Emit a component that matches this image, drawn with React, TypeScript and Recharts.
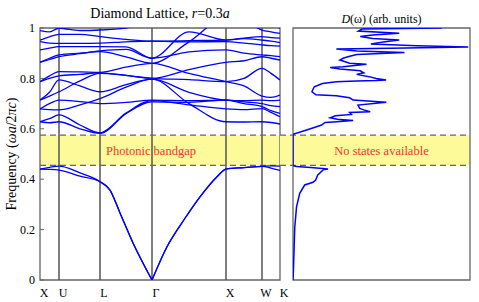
import React from 'react';
import { LineChart, Line, XAxis, YAxis, ReferenceLine, ReferenceArea } from 'recharts';

const serif = "'Liberation Serif', 'Times New Roman', serif";

// k-path positions of the high-symmetry points and their labels
const symPoints = [0, 19, 60, 112, 186, 222, 240];
const symLabels = ['X', 'U', 'L', 'Γ', 'X', 'W', 'K'];
const freqTicks = [0, 0.2, 0.4, 0.6, 0.8, 1];
const gapEdges = [0.455, 0.575];

// lowest two bands (split at Γ so the cusp stays sharp)
const kLowLeft = [0, 9.5, 19, 40, 60, 70, 80, 93, 112];
const kLowRight = [112, 127, 145, 160, 177, 186, 204, 222, 231, 240];
const band1Left = [0.44, 0.439, 0.436, 0.412, 0.39, 0.357, 0.266, 0.147, 0];
const band2Left = [0.44, 0.447, 0.452, 0.425, 0.39, 0.357, 0.266, 0.147, 0];
const band1Right = [0, 0.132, 0.245, 0.33, 0.41, 0.44, 0.446, 0.451, 0.444, 0.435];
const band2Right = [0, 0.132, 0.245, 0.33, 0.41, 0.44, 0.446, 0.451, 0.453, 0.452];

// bands above the gap, sampled along the path
const kPath = [0, 9.5, 19, 40, 60, 86, 112, 149, 186, 204, 222, 231, 240];
const band3 = [0.628, 0.624, 0.628, 0.6, 0.582, 0.66, 0.707, 0.705, 0.714, 0.7, 0.688, 0.672, 0.661];
const band4 = [0.628, 0.64, 0.655, 0.615, 0.584, 0.662, 0.712, 0.695, 0.679, 0.676, 0.68, 0.665, 0.648];
const band5 = [0.679, 0.676, 0.675, 0.695, 0.72, 0.765, 0.797, 0.7, 0.628, 0.627, 0.628, 0.625, 0.619];
const band6 = [0.679, 0.7, 0.714, 0.708, 0.7, 0.705, 0.714, 0.712, 0.714, 0.707, 0.7, 0.692, 0.688];
const band7 = [0.714, 0.73, 0.747, 0.79, 0.82, 0.812, 0.8, 0.795, 0.787, 0.8, 0.84, 0.82, 0.794];
const band8 = [0.714, 0.745, 0.794, 0.77, 0.747, 0.775, 0.797, 0.745, 0.714, 0.712, 0.714, 0.712, 0.714];
const band9 = [0.787, 0.8, 0.81, 0.816, 0.822, 0.812, 0.8, 0.835, 0.864, 0.87, 0.886, 0.88, 0.873];
const band10 = [0.787, 0.81, 0.827, 0.826, 0.824, 0.845, 0.86, 0.82, 0.787, 0.77, 0.73, 0.725, 0.734];
const band11 = [0.864, 0.88, 0.893, 0.9, 0.906, 0.885, 0.86, 0.945, 1.04, 1.03, 0.992, 0.985, 0.979];
const band12 = [0.864, 0.875, 0.886, 0.898, 0.909, 0.915, 0.88, 0.905, 0.913, 0.9, 0.893, 0.89, 0.886];
const band13 = [0.913, 0.92, 0.926, 0.926, 0.926, 0.925, 0.88, 0.985, 0.952, 0.958, 0.952, 0.948, 0.942];
const band14 = [0.946, 0.94, 0.939, 0.939, 0.94, 0.945, 0.948, 0.945, 0.946, 0.94, 0.933, 0.93, 0.928];
const band15 = [0.952, 0.965, 0.975, 0.975, 0.966, 0.955, 0.948, 0.95, 0.952, 0.96, 0.966, 0.962, 0.96];
const band16 = [0.99, 0.985, 0.999, 0.99, 0.992, 1.0, 1.02, 1.05, 1.06, 1.04, 1.02, 1.01, 1.0];

// density of states: frequency and value (fraction of panel width)
const dosFreq = [
  0, 0.05, 0.12, 0.21, 0.29, 0.344, 0.377, 0.388, 0.397, 0.417, 0.437, 0.44, 0.446, 0.45, 0.453, 0.455,
  0.575, 0.578, 0.595, 0.615, 0.625, 0.627, 0.633, 0.638, 0.644, 0.652, 0.657, 0.665, 0.668, 0.675, 0.681,
  0.694, 0.705, 0.714, 0.723, 0.731, 0.735, 0.747, 0.767, 0.78, 0.787, 0.79, 0.792, 0.794, 0.8, 0.807,
  0.813, 0.816, 0.822, 0.83, 0.837, 0.843, 0.846, 0.856, 0.86, 0.873, 0.88, 0.886, 0.895, 0.903, 0.909,
  0.917, 0.92, 0.925, 0.93, 0.937, 0.945, 0.952, 0.958, 0.966, 0.972, 0.979, 0.988, 0.996, 1.0,
];
const dosValue = [
  0, 0.003, 0.006, 0.01, 0.02, 0.038, 0.066, 0.113, 0.128, 0.14, 0.17, 0.198, 0.1, 0.02, 0.005, 0,
  0, 0, 0.077, 0.162, 0.181, 0.228, 0.34, 0.25, 0.21, 0.24, 0.33, 0.32, 0.436, 0.4, 0.377,
  0.367, 0.527, 0.34, 0.32, 0.245, 0.13, 0.107, 0.12, 0.166, 0.245, 0.36, 0.47, 0.526, 0.47, 0.43,
  0.38, 0.36, 0.4, 0.38, 0.265, 0.21, 0.283, 0.415, 0.32, 0.265, 0.283, 0.31, 0.36, 0.63, 0.36,
  0.245, 0.55, 0.99, 0.7, 0.44, 0.52, 0.6, 0.45, 0.38, 0.45, 0.6, 0.37, 0.39, 0.84,
];

const toPoints = (ks: number[], fs: number[]) => ks.map((k, i) => ({ k, f: fs[i] }));

const upperBands = [band3, band4, band5, band6, band7, band8, band9, band10, band11, band12, band13, band14, band15, band16];
const lowerSeries = [
  toPoints(kLowLeft, band1Left),
  toPoints(kLowLeft, band2Left),
  toPoints(kLowRight, band1Right),
  toPoints(kLowRight, band2Right),
];
const dosData = dosFreq.map((f, i) => ({ f, d: dosValue[i] }));

const frame = '#666';
const yellow = '#fdfa9a';
const bandBlue = '#0000ff';
const gapLeft = -13 / 177;
const tickFont = { fill: '#000', fontSize: 12, fontFamily: serif, style: { fontFamily: serif } };

export default function App() {
  return (
    <div style={{ position: 'absolute', left: 0, top: 0, width: 479, height: 302, background: '#fff', fontFamily: serif }}>
      <div style={{ position: 'absolute', left: 0, top: 0 }}>
        <LineChart width={290} height={302} margin={{ top: 28, right: 10, bottom: 0, left: 0 }}>
          <XAxis
            type="number"
            dataKey="k"
            domain={[0, 240]}
            ticks={symPoints}
            interval={0}
            tickFormatter={(v: number) => symLabels[symPoints.indexOf(v)]}
            axisLine={false}
            tickLine={false}
            tickSize={0}
            tickMargin={8}
            height={22}
            tick={{ ...tickFont, dx: 4 }}
            allowDataOverflow
          />
          <YAxis
            type="number"
            domain={[0, 1]}
            ticks={freqTicks}
            interval={0}
            allowDataOverflow
            width={40}
            axisLine={false}
            tickSize={-4}
            tickMargin={9}
            tickLine={{ stroke: frame }}
            tick={tickFont}
          />
          <ReferenceArea
            y1={gapEdges[0]}
            y2={gapEdges[1]}
            fill={yellow}
            fillOpacity={1}
            stroke="none"
            label={{ value: 'Photonic bandgap', position: 'center', fill: '#ff3030', fontSize: 12.5, fontFamily: serif, dx: -9, style: { fontFamily: serif } }}
          />
          {symPoints.slice(1, -1).map((k) => (
            <ReferenceLine key={k} x={k} stroke="#555" strokeWidth={1.5} />
          ))}
          {gapEdges.map((g) => (
            <ReferenceLine key={g} y={g} stroke={frame} strokeWidth={1.2} strokeDasharray="6 4" />
          ))}
          {lowerSeries.map((s, i) => (
            <Line key={'low' + i} data={s} dataKey="f" type="monotone" stroke={bandBlue} strokeWidth={1.3} dot={false} isAnimationActive={false} />
          ))}
          {upperBands.map((b, i) => (
            <Line key={'up' + i} data={toPoints(kPath, b)} dataKey="f" type="monotone" stroke={bandBlue} strokeWidth={1.3} dot={false} isAnimationActive={false} />
          ))}
          <ReferenceArea x1={0} x2={240} y1={0} y2={1} fill="none" stroke={frame} strokeWidth={1.3} />
        </LineChart>
      </div>
      <div style={{ position: 'absolute', left: 280, top: 0 }}>
        <LineChart layout="vertical" width={199} height={302} data={dosData} margin={{ top: 28, right: 9, bottom: 22, left: 13 }}>
          <XAxis type="number" domain={[0, 1]} hide allowDataOverflow />
          <YAxis type="number" dataKey="f" domain={[0, 1]} hide allowDataOverflow reversed />
          <ReferenceArea x1={gapLeft} x2={1} y1={gapEdges[0]} y2={gapEdges[1]} fill={yellow} fillOpacity={1} stroke="none" ifOverflow="visible" />
          <ReferenceArea
            x1={0}
            x2={1}
            y1={gapEdges[0]}
            y2={gapEdges[1]}
            fill="none"
            stroke="none"
            label={{ value: 'No states available', position: 'center', fill: '#ff3030', fontSize: 12.5, fontFamily: serif, style: { fontFamily: serif } }}
          />
          {gapEdges.map((g) => (
            <ReferenceLine
              key={g}
              segment={[{ x: gapLeft, y: g }, { x: 1, y: g }]}
              ifOverflow="visible"
              stroke={frame}
              strokeWidth={1.2}
              strokeDasharray="6 4"
            />
          ))}
          <Line dataKey="d" type="linear" stroke={bandBlue} strokeWidth={1.5} dot={false} isAnimationActive={false} />
          <ReferenceArea x1={0} x2={1} y1={0} y2={1} fill="none" stroke={frame} strokeWidth={1.3} />
        </LineChart>
      </div>
      <div style={{ position: 'absolute', left: 40, width: 240, top: 6, textAlign: 'center', fontSize: 14, lineHeight: '16px', whiteSpace: 'nowrap' }}>
        Diamond Lattice, <i>r</i>=0.3<i>a</i>
      </div>
      <div style={{ position: 'absolute', left: 293, width: 177, top: 12, textAlign: 'center', fontSize: 12, lineHeight: '14px', whiteSpace: 'nowrap' }}>
        <i>D</i>(ω) (arb. units)
      </div>
      <div
        style={{
          position: 'absolute',
          left: 12,
          top: 154,
          transform: 'translate(-50%, -50%) rotate(-90deg)',
          fontSize: 14,
          lineHeight: '16px',
          whiteSpace: 'nowrap',
        }}
      >
        Frequency (<i>ωa</i>/2<i>πc</i>)
      </div>
    </div>
  );
}
